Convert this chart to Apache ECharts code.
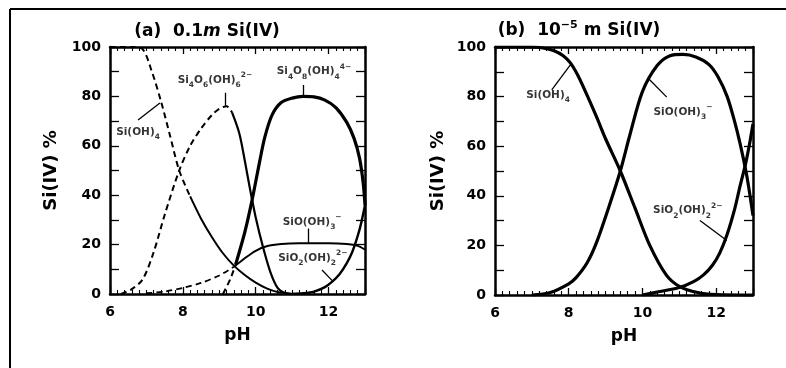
<!DOCTYPE html>
<html><head><meta charset="utf-8">
<script src="https://cdn.jsdelivr.net/npm/echarts@6/dist/echarts.min.js"></script>
<style>html,body{margin:0;padding:0;background:#fff}#c{width:786px;height:368px}</style>
</head><body><div id="c"></div>
<script>
// ---------- tick labels ----------
const xTickLabels = [6, 8, 10, 12];
const yTickLabels = [0, 20, 40, 60, 80, 100];

// ---------- panel (a) 0.1 m Si(IV) ----------
const a_SiOH4_pH = [6.0, 6.6, 6.9, 7.15, 7.4, 7.65, 7.9, 8.2, 8.5, 8.8, 9.1, 9.4, 9.7, 10.0, 10.3, 10.6, 10.9, 11.2];
const a_SiOH4    = [100, 100, 99, 90, 78, 64, 50, 39.5, 30.5, 23, 16.5, 11.5, 7.7, 4.6, 2.3, 0.8, 0.2, 0];

const a_Si4O6_pH = [6.3, 6.6, 6.9, 7.2, 7.5, 7.9, 8.2, 8.5, 8.8, 9.0, 9.2, 9.35, 9.55, 9.7, 9.85, 10.0, 10.2, 10.4, 10.6, 10.8, 11.0];
const a_Si4O6    = [0, 2, 6, 17, 32, 50, 60, 67, 72.5, 75, 76, 73.5, 65, 54, 42, 31, 19, 9, 2.5, 0.4, 0];

const a_Si4O8_pH = [9.1, 9.3, 9.45, 9.7, 9.9, 10.1, 10.25, 10.45, 10.7, 11.0, 11.3, 11.6, 11.9, 12.2, 12.5, 12.7, 12.85, 12.95, 13.0];
const a_Si4O8    = [0, 6, 12, 25, 38, 53, 63.5, 72.5, 77.5, 79.3, 80, 79.8, 78.5, 75.5, 69.5, 63, 55, 45, 36];

const a_SiO_pH = [7.0, 7.5, 8.0, 8.5, 9.0, 9.4, 9.7, 10.0, 10.3, 10.7, 11.2, 12.0, 12.5, 12.8, 13.0];
const a_SiO    = [0.3, 1, 2.5, 4.5, 7.5, 11, 14.5, 17.5, 19.3, 20.2, 20.5, 20.5, 20.2, 19.5, 18];

const a_SiO2_pH = [11.0, 11.3, 11.6, 11.9, 12.1, 12.3, 12.5, 12.65, 12.8, 12.9, 13.0];
const a_SiO2    = [0, 0.3, 1, 2.8, 5, 8, 12.5, 17, 23.5, 29, 36];

// ---------- panel (b) 1e-5 m Si(IV) ----------
const b_SiOH4_pH = [6.0, 7.0, 7.3, 7.6, 7.85, 8.05, 8.25, 8.5, 8.75, 9.0, 9.4, 9.8, 10.2, 10.65, 11.0, 11.5, 12.0, 13.0];
const b_SiOH4    = [100, 100, 99.6, 98.5, 96.5, 93.5, 88.5, 80.5, 72, 63, 50, 35, 20, 8, 3.5, 1, 0.2, 0];

const b_SiO_pH = [7.0, 7.5, 8.0, 8.2, 8.5, 8.75, 9.1, 9.4, 9.65, 10.0, 10.4, 10.75, 11.1, 11.45, 11.8, 12.05, 12.3, 12.5, 12.65, 12.82, 12.92, 13.0];
const b_SiO    = [0, 1, 4.5, 7, 13, 21, 36, 50, 64, 82, 92.5, 96.5, 97, 96, 93, 88, 80, 70, 61, 49, 40, 32];

const b_SiO2_pH = [10.0, 10.4, 11.0, 11.4, 11.65, 11.9, 12.1, 12.3, 12.5, 12.65, 12.8, 12.92, 13.0];
const b_SiO2    = [0, 1.2, 3, 5.5, 8, 12, 17, 24.5, 34.5, 44, 53, 62, 69];

// ---------- helpers ----------
const FONT = 'DejaVu Sans';
function pts(xs, ys, lo, hi) {
  const out = [];
  for (let i = 0; i < xs.length; i++) if (xs[i] >= lo && xs[i] <= hi) out.push([xs[i], ys[i]]);
  return out;
}
function curve(g, xs, ys, lo, hi, width, dashed) {
  return {
    type: 'line', xAxisIndex: g * 2, yAxisIndex: g * 2, data: pts(xs, ys, lo, hi),
    showSymbol: false, symbol: 'none', smooth: 0.3, silent: true, animation: false,
    lineStyle: { color: '#000', width: width, type: dashed ? [6, 4] : 'solid' }, z: 3
  };
}
const richLab = {
  n: { fontSize: 10.5, fontWeight: 'bold', fontFamily: FONT, color: '#000', lineHeight: 18 },
  s: { fontSize: 7.5, fontWeight: 'bold', fontFamily: FONT, color: '#000', verticalAlign: 'bottom', lineHeight: 18 },
  p: { fontSize: 7.5, fontWeight: 'bold', fontFamily: FONT, color: '#000', verticalAlign: 'top', lineHeight: 18 }
};
// annotation layout (data coordinates): [text, x, y, leaderFrom, leaderTo]
const annA = [
  ['{n|Si(OH)}{s|4}', 6.77, 65.5, [6.77, 70.4], [7.37, 77.3]],
  ['{n|Si}{s|4}{n|O}{s|6}{n|(OH)}{s|6}{p|2−}', 8.88, 86.6, [9.15, 81.5], [9.15, 76.2]],
  ['{n|Si}{s|4}{n|O}{s|8}{n|(OH)}{s|4}{p|4−}', 11.6, 90.0, [11.3, 84.6], [11.3, 80.0]],
  ['{n|SiO(OH)}{s|3}{p|−}', 11.55, 29.0, [11.45, 26.5], [11.45, 20.6]],
  ['{n|SiO}{s|2}{n|(OH)}{s|2}{p|2−}', 11.57, 14.6, [11.82, 9.7], [12.1, 5.4]]
];
const annB = [
  ['{n|Si(OH)}{s|4}', 7.44, 80.6, [7.54, 82.7], [8.08, 93.5]],
  ['{n|SiO(OH)}{s|3}{p|−}', 11.1, 73.8, [10.15, 87.5], [10.66, 79.8]],
  ['{n|SiO}{s|2}{n|(OH)}{s|2}{p|2−}', 11.23, 34.0, [11.56, 30.0], [12.29, 22.0]]
];
function annSeries(g, ann) {
  return [{
    type: 'scatter', xAxisIndex: g * 2, yAxisIndex: g * 2, symbolSize: 0, silent: true, animation: false,
    data: ann.map(a => ({ name: a[0], value: [a[1], a[2]] })),
    label: { show: true, position: 'inside', formatter: p => p.name, rich: richLab }
  }, {
    type: 'lines', coordinateSystem: 'cartesian2d', xAxisIndex: g * 2, yAxisIndex: g * 2, silent: true, animation: false,
    polyline: false, symbol: 'none',
    lineStyle: { color: '#000', width: 1.3, opacity: 1, curveness: 0 },
    data: ann.map(a => ({ coords: [a[3], a[4]] }))
  }];
}

const xMin = xTickLabels[0], xMax = 13, xInt = xTickLabels[1] - xTickLabels[0];
const yMin = yTickLabels[0], yMax = yTickLabels[yTickLabels.length - 1], yInt = yTickLabels[1] - yTickLabels[0];
const axLine = { show: true, onZero: false, lineStyle: { color: '#000', width: 2.5 } };
function xAxes(g) {
  const base = {
    type: 'value', gridIndex: g, min: xMin, max: xMax, interval: xInt,
    axisLine: axLine, splitLine: { show: false },
    axisTick: { show: true, inside: true, length: 7, lineStyle: { color: '#000', width: 1.3 } },
    minorTick: { show: true, splitNumber: 10, length: 4, lineStyle: { color: '#000', width: 1.1 } }
  };
  return [Object.assign({}, base, {
    position: 'bottom',
    axisLabel: { show: true, color: '#000', fontFamily: FONT, fontWeight: 'bold', fontSize: 14, margin: 11,
      formatter: v => (v > 12.5 ? '' : String(v)) },
    name: 'pH', nameLocation: 'middle', nameGap: 33,
    nameTextStyle: { color: '#000', fontFamily: FONT, fontWeight: 'bold', fontSize: 17 }
  }), Object.assign({}, base, { position: 'top', axisLabel: { show: false } })];
}
function yAxes(g, gap) {
  const base = {
    type: 'value', gridIndex: g, min: yMin, max: yMax, interval: yInt,
    axisLine: axLine, splitLine: { show: false },
    axisTick: { show: true, inside: true, length: 9, lineStyle: { color: '#000', width: 1.3 } },
    minorTick: { show: true, splitNumber: 2, length: 9, lineStyle: { color: '#000', width: 1.3 } }
  };
  return [Object.assign({}, base, {
    position: 'left',
    axisLabel: { show: true, color: '#000', fontFamily: FONT, fontWeight: 'bold', fontSize: 14, margin: 9 },
    name: 'Si(IV) %', nameLocation: 'middle', nameGap: gap,
    nameTextStyle: { color: '#000', fontFamily: FONT, fontWeight: 'bold', fontSize: 18 }
  }), Object.assign({}, base, { position: 'right', axisLabel: { show: false } })];
}

const series = [
  // panel a
  curve(0, a_SiOH4_pH, a_SiOH4, 0, 8.2, 2, true),
  curve(0, a_SiOH4_pH, a_SiOH4, 8.2, 14, 2, false),
  curve(0, a_Si4O6_pH, a_Si4O6, 0, 9.35, 2, true),
  curve(0, a_Si4O6_pH, a_Si4O6, 9.35, 14, 2.2, false),
  curve(0, a_Si4O8_pH, a_Si4O8, 0, 9.45, 2, true),
  curve(0, a_Si4O8_pH, a_Si4O8, 9.45, 14, 3.2, false),
  curve(0, a_SiO_pH, a_SiO, 0, 9.4, 1.8, true),
  curve(0, a_SiO_pH, a_SiO, 9.4, 14, 2, false),
  curve(0, a_SiO2_pH, a_SiO2, 0, 14, 2.4, false),
  // panel b
  curve(1, b_SiOH4_pH, b_SiOH4, 0, 14, 3.2, false),
  curve(1, b_SiO_pH, b_SiO, 0, 14, 3.2, false),
  curve(1, b_SiO2_pH, b_SiO2, 0, 14, 3.2, false)
].concat(annSeries(0, annA), annSeries(1, annB));

const titleRich = {
  t: { fontSize: 17, fontWeight: 'bold', fontFamily: FONT, color: '#000' },
  i: { fontSize: 17, fontWeight: 'bold', fontStyle: 'italic', fontFamily: FONT, color: '#000' },
  sp: { fontSize: 11, fontWeight: 'bold', fontFamily: FONT, color: '#000', verticalAlign: 'top', lineHeight: 22 }
};

const option = {
  backgroundColor: '#fff',
  animation: false,
  grid: [
    { left: 110, top: 47, width: 255, height: 247 },
    { left: 495, top: 47, width: 258, height: 248 }
  ],
  xAxis: xAxes(0).concat(xAxes(1)),
  yAxis: yAxes(0, 50).concat(yAxes(1, 48)),
  series: series,
  graphic: [
    { type: 'line', shape: { x1: 10, y1: 9, x2: 786, y2: 9 }, style: { stroke: '#000', lineWidth: 2 } },
    { type: 'line', shape: { x1: 10, y1: 9, x2: 10, y2: 368 }, style: { stroke: '#000', lineWidth: 2 } },
    { type: 'text', x: 207, y: 32, style: { text: '{t|(a)  0.1}{i|m}{t| Si(IV)}', rich: titleRich, align: 'center', verticalAlign: 'middle' } },
    { type: 'text', x: 579, y: 31, style: { text: '{t|(b)  10}{sp|−5}{t| m Si(IV)}', rich: titleRich, align: 'center', verticalAlign: 'middle' } }
  ]
};
const chart = echarts.init(document.getElementById('c'), null, { renderer: 'canvas' });
chart.setOption(option);
</script>
</body></html>
